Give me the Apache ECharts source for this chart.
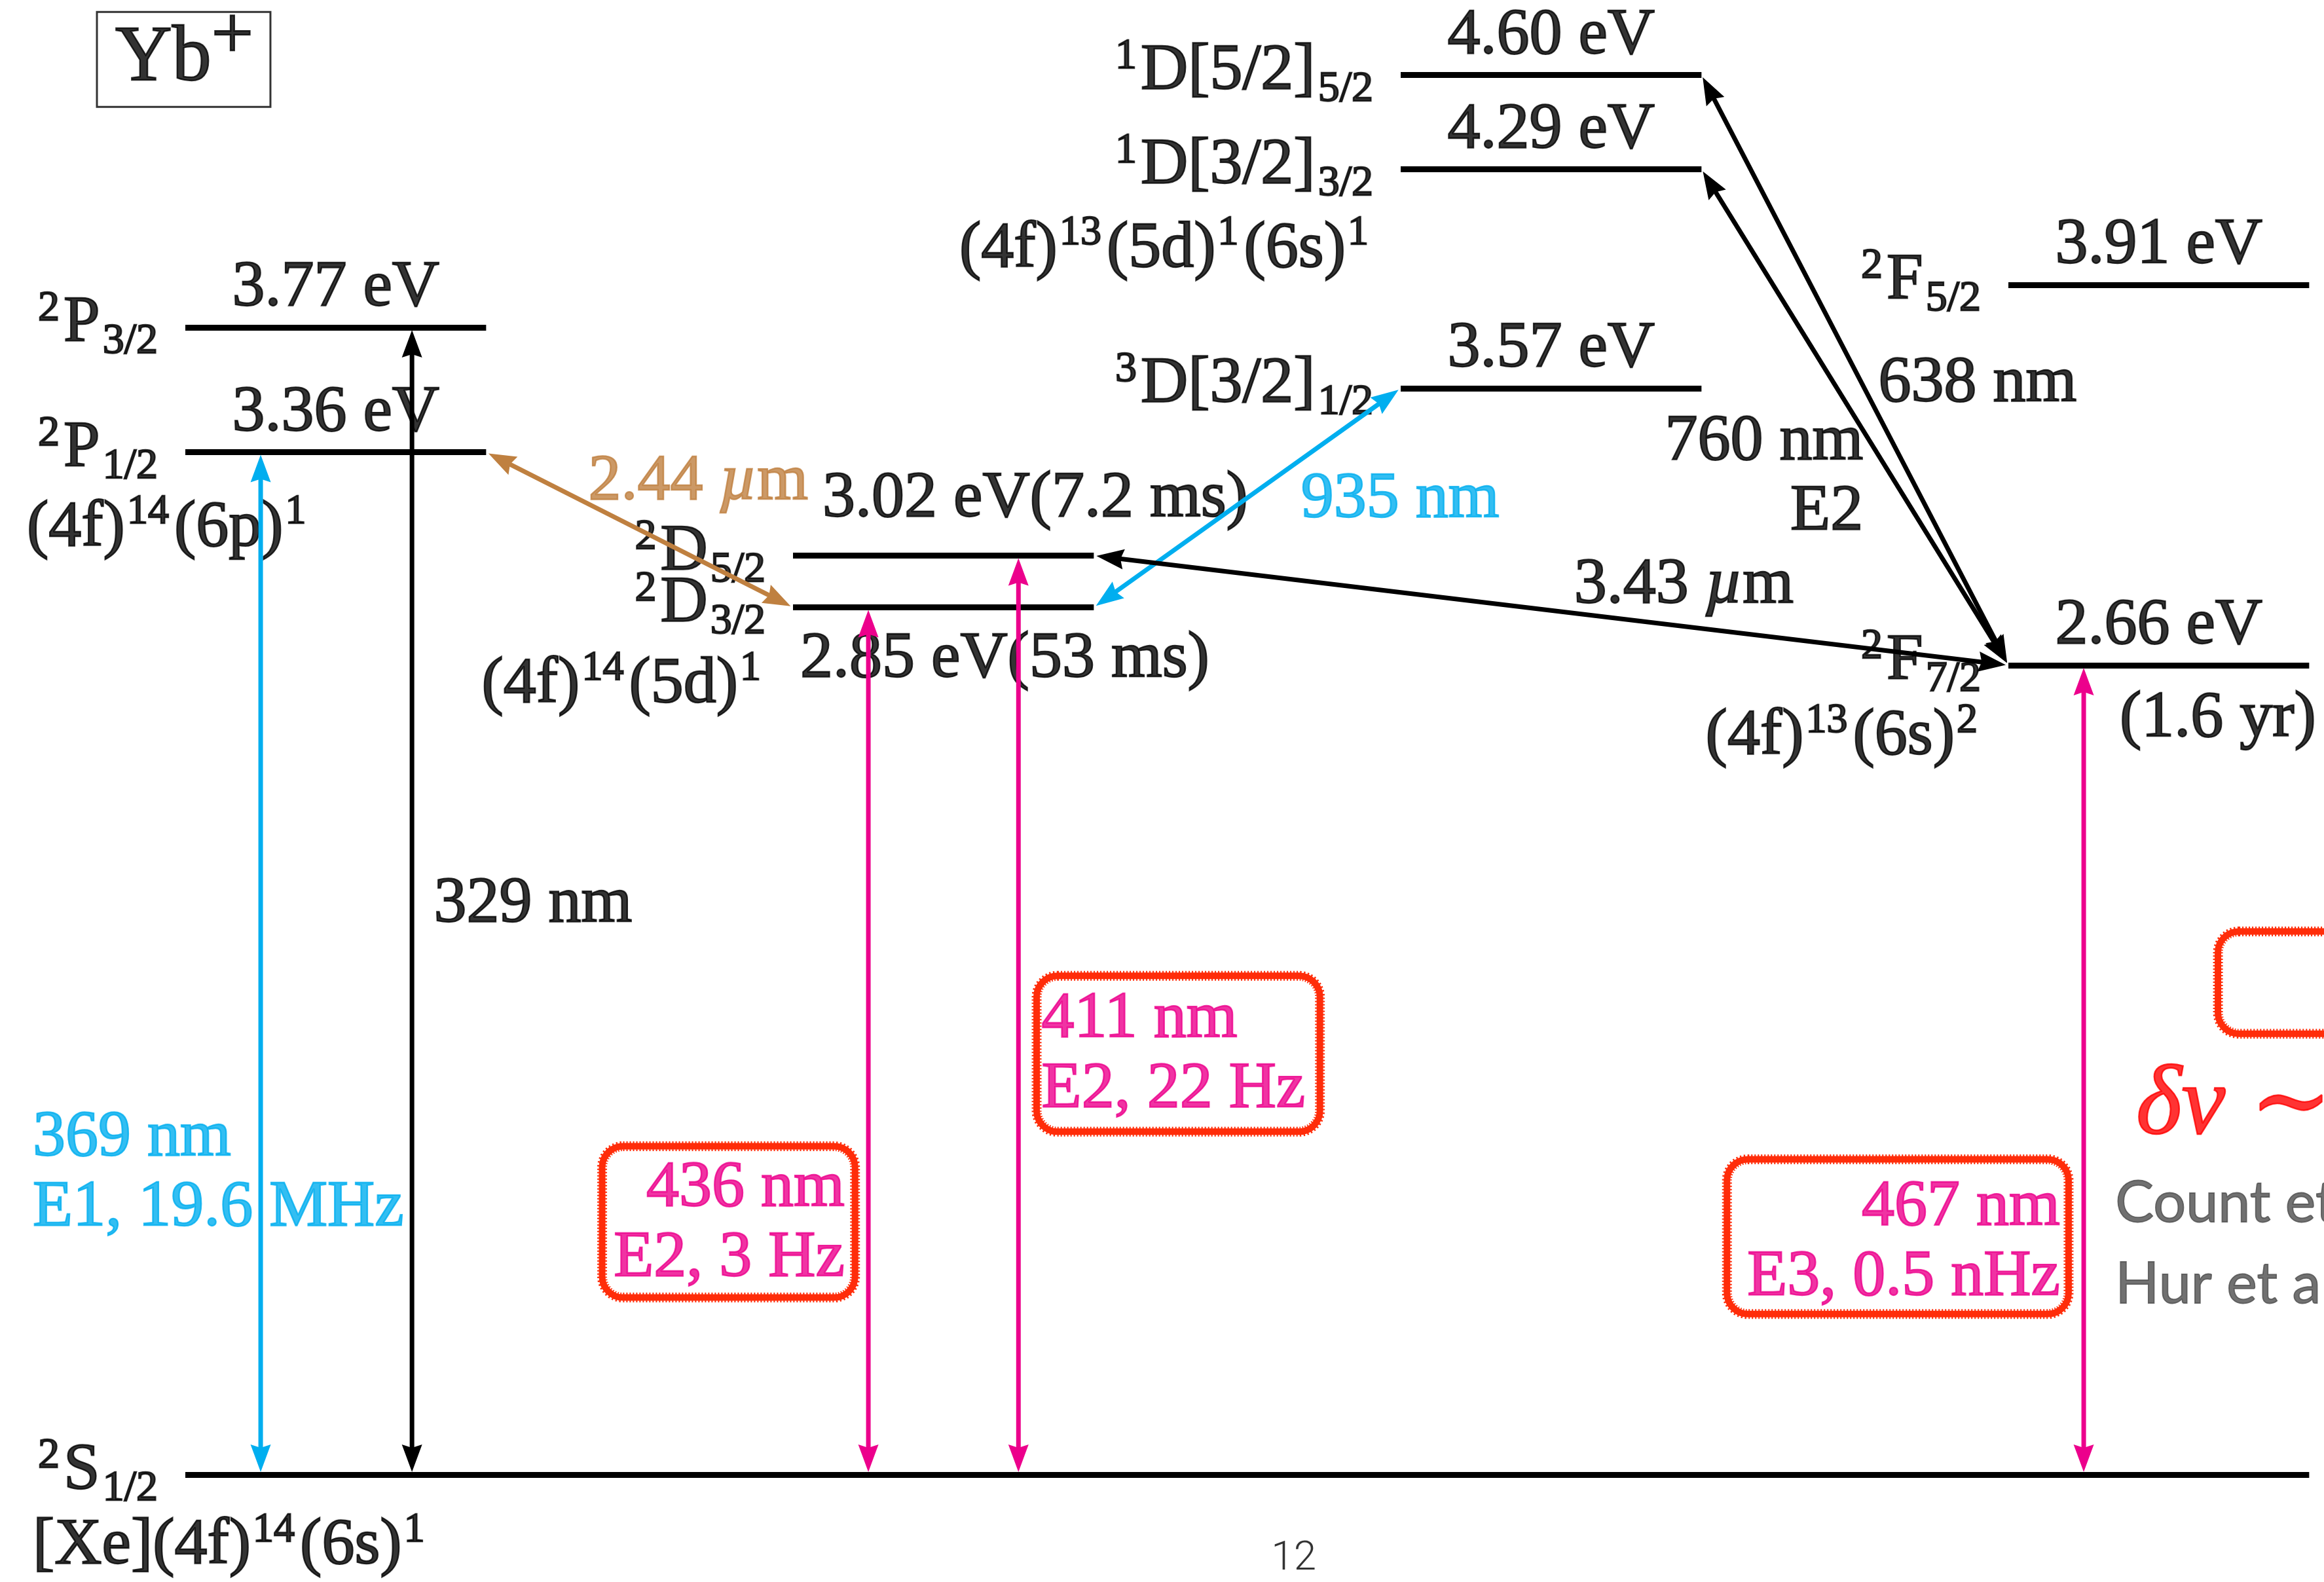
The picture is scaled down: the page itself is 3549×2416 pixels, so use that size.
<!DOCTYPE html>
<html>
<head>
<meta charset="utf-8">
<title>Yb+ levels</title>
<script src="https://cdn.jsdelivr.net/npm/echarts@6.0.0/dist/echarts.min.js"></script>
<style>
html, body { margin: 0; padding: 0; background: #fff; }
#main { width: 3549px; height: 2416px; }
</style>
</head>
<body>
<div id="main"></div>
<script>
// 能级数据 (eV)
var levelNames = ['2S1/2', '2P1/2', '2P3/2', '2D3/2', '2D5/2', '3D[3/2]1/2', '1D[3/2]3/2', '1D[5/2]5/2', '2F7/2', '2F5/2'];
var levelEnergy = [0, 3.36, 3.77, 2.85, 3.02, 3.57, 4.29, 4.60, 2.66, 3.91];
var levelTerm = [
	'{p|2}{m|S}{s|1/2}', '{p|2}{m|P}{s|1/2}', '{p|2}{m|P}{s|3/2}',
	'{p|2}{m|D}{s|3/2}', '{p|2}{m|D}{s|5/2}',
	'{p|3}{m|D[3/2]}{s|1/2}', '{p|1}{m|D[3/2]}{s|3/2}', '{p|1}{m|D[5/2]}{s|5/2}',
	'{p|2}{m|F}{s|7/2}', '{p|2}{m|F}{s|5/2}'
];
var levelEnergyText = ['', '3.36 eV', '3.77 eV', '2.85 eV(53 ms)', '3.02 eV(7.2 ms)', '3.57 eV', '4.29 eV', '4.60 eV', '2.66 eV', '3.91 eV'];

// 电子组态
var configLevel = ['2S1/2', '2P1/2', '2D3/2', '1D[3/2]3/2', '2F7/2'];
var configText = [
	'{m|[Xe](4f)}{u|14}{m|(6s)}{u|1}',
	'{m|(4f)}{u|14}{m|(6p)}{u|1}',
	'{m|(4f)}{u|14}{m|(5d)}{u|1}',
	'{m|(4f)}{u|13}{m|(5d)}{u|1}{m|(6s)}{u|1}',
	'{m|(4f)}{u|13}{m|(6s)}{u|2}'
];

// 跃迁
var transName = ['369 nm', '329 nm', '436 nm', '411 nm', '467 nm', '2.44 µm', '935 nm', '3.43 µm', '760 nm', '638 nm'];
var transLower = ['2S1/2', '2S1/2', '2S1/2', '2S1/2', '2S1/2', '2D3/2', '2D3/2', '2F7/2', '2F7/2', '2F7/2'];
var transUpper = ['2P1/2', '2P3/2', '2D3/2', '2D5/2', '2F7/2', '2P1/2', '3D[3/2]1/2', '2D5/2', '1D[3/2]3/2', '1D[5/2]5/2'];
var transText = [
	'{n|369 nm}\n{n|E1, 19.6 MHz}', '{n|329 nm}', '{n|436 nm}\n{n|E2, 3 Hz}', '{n|411 nm}\n{n|E2, 22 Hz}',
	'{n|467 nm}\n{n|E3, 0.5 nHz}', '{n|2.44 }{i|µ}{n|m}', '{n|935 nm}', '{n|3.43 }{i|µ}{n|m}',
	'{n|760 nm}\n{n|E2}', '{n|638 nm}'
];

/**------------------------- 布局 / 样式 ----------------------------*/
var X_MIN = -0.30496, X_MAX = 3.51940, E_MIN = -0.3529, E_MAX = 4.8461;
var LEVEL_W = 0.495; //能级线长度(列宽单位)
var levelColumn = {'2S1/2': 0, '2P1/2': 0, '2P3/2': 0, '2D3/2': 1, '2D5/2': 1, '3D[3/2]1/2': 2, '1D[3/2]3/2': 2, '1D[5/2]5/2': 2, '2F7/2': 3, '2F5/2': 3};
var levelExtra = {'2S1/2': 3}; //基态横跨四列
// 能量标注: [对齐, dx, dy]
var energyLabelLayout = {'2D3/2': ['left', 11, 79], '2D5/2': ['left', 45, -87]};
var configLayout = {
	'2S1/2': ['left', -233, 109], '2P1/2': ['left', -242, 116], '2D3/2': ['right', -41, 118],
	'1D[3/2]3/2': ['right', -41, 122], '2F7/2': ['right', -39, 109]
};
// 跃迁箭头横向位置 [下端, 上端]
var transX = {
	'369 nm': [0.124, 0.124], '329 nm': [0.373, 0.373], '436 nm': [1.124, 1.124], '411 nm': [1.371, 1.371],
	'467 nm': [3.124, 3.124], '2.44 µm': [1, 0.495], '935 nm': [1.495, 2], '3.43 µm': [3, 1.495],
	'760 nm': [3, 2.495], '638 nm': [3, 2.495]
};
var transLabelPos = {
	'369 nm': [-0.251, 0.992, 'left'], '329 nm': [0.409, 1.874, 'left'], '436 nm': [1.085, 0.826, 'right'],
	'411 nm': [1.409, 1.382, 'left'], '467 nm': [3.085, 0.764, 'right'], '2.44 µm': [0.844, 3.262, 'center'],
	'935 nm': [1.836, 3.204, 'left'], '3.43 µm': [2.466, 2.922, 'center'], '760 nm': [2.761, 3.280, 'right'],
	'638 nm': [2.786, 3.585, 'left']
};
var BLUE = '#00aeef', MAGENTA = '#ec008c', BROWN = '#bf8040', BLACK = '#000', RED = '#ff0000', BOX_RED = '#ff2d0a';
var transColor = {
	'369 nm': BLUE, '329 nm': BLACK, '436 nm': MAGENTA, '411 nm': MAGENTA, '467 nm': MAGENTA,
	'2.44 µm': BROWN, '935 nm': BLUE, '3.43 µm': BLACK, '760 nm': BLACK, '638 nm': BLACK
};
// 红色圈注框 [x0, e0, x1, e1]
var noteBoxes = [[0.680, 0.570, 1.108, 1.091], [1.395, 1.115, 1.873, 1.651], [2.531, 0.516, 3.105, 1.048], [3.339, 1.437, 3.62, 1.797]];

var SERIF = '"Liberation Serif", "DejaVu Serif", serif';
var HEAD_LEN = 42, HEAD_HALF = 15.5, HEAD_GAP = 4, ARROW_W = 7; //箭头尺寸(px)

function tok(color, o) {
	o.color = color;
	o.textBorderColor = color;
	o.textBorderWidth = o.textBorderWidth == null ? 2.4 : o.textBorderWidth;
	return o;
}

function richStyle(color) {
	return {
		m: tok(color, {fontFamily: SERIF, fontSize: 100, lineHeight: 130, verticalAlign: 'middle'}),
		p: tok(color, {fontFamily: SERIF, fontSize: 66, height: 86, verticalAlign: 'top', padding: [0, 6, 0, 0]}),
		u: tok(color, {fontFamily: SERIF, fontSize: 64, height: 82, verticalAlign: 'top', padding: [0, 8, 0, 3]}),
		s: tok(color, {fontFamily: SERIF, fontSize: 66, height: 74, verticalAlign: 'bottom', padding: [0, 0, 0, 4]}),
		n: tok(color, {fontFamily: SERIF, fontSize: 100, lineHeight: 107, verticalAlign: 'middle'}),
		i: tok(color, {fontFamily: SERIF, fontSize: 100, lineHeight: 107, fontStyle: 'italic', verticalAlign: 'middle'}),
		Y: tok(color, {fontFamily: SERIF, fontSize: 120, lineHeight: 130, verticalAlign: 'middle'}),
		q: tok(color, {fontFamily: SERIF, fontSize: 114, height: 66, verticalAlign: 'top'}),
		d: tok(color, {fontFamily: SERIF, fontSize: 150, lineHeight: 170, fontStyle: 'italic', verticalAlign: 'middle'}),
		t: tok(color, {fontFamily: SERIF, fontSize: 150, lineHeight: 170, verticalAlign: 'middle'}),
		g: tok(color, {fontFamily: 'Lato, "Open Sans", sans-serif', fontSize: 88, lineHeight: 100, verticalAlign: 'middle', textBorderWidth: 1.8}),
		pg: tok(color, {fontFamily: 'Roboto, "Liberation Sans", sans-serif', fontWeight: 300, fontSize: 62, lineHeight: 70, verticalAlign: 'middle', textBorderWidth: 0})
	};
}

function textItem(x, e, text, color, align, offset, extra) {
	var label = {
		show: true, position: 'inside', formatter: text, align: align, verticalAlign: 'middle', color: color,
		offset: offset || [0, 0], rich: richStyle(color)
	};
	if (extra) {
		for (var k in extra) label[k] = extra[k];
	}
	return {value: [x, e], label: label};
}

function energyOf(name) {
	return levelEnergy[levelNames.indexOf(name)];
}

var chart = echarts.init(document.getElementById('main'));

// 能级线
var levelData = levelNames.map(function (name, i) {
	var x0 = levelColumn[name];
	var x1 = x0 + (levelExtra[name] || 0) + LEVEL_W;
	return {name: name, coords: [[x0, levelEnergy[i]], [x1, levelEnergy[i]]]};
});

// 跃迁: [x下, E下, x上, E上]
var transData = transName.map(function (name, i) {
	return [transX[name][0], energyOf(transLower[i]), transX[name][1], energyOf(transUpper[i])];
});

// 双向箭头
function renderArrow(params, api) {
	var a = api.coord([api.value(0), api.value(1)]);
	var b = api.coord([api.value(2), api.value(3)]);
	var color = transColor[transName[params.dataIndex]];
	var dx = b[0] - a[0], dy = b[1] - a[1];
	var len = Math.sqrt(dx * dx + dy * dy);
	var ux = dx / len, uy = dy / len;
	function head(tx, ty, dirx, diry) {
		var bx = tx - dirx * HEAD_LEN, by = ty - diry * HEAD_LEN;
		var nx = -diry, ny = dirx;
		return {
			type: 'polygon',
			shape: {points: [[tx, ty], [bx + nx * HEAD_HALF, by + ny * HEAD_HALF],
				[tx - dirx * HEAD_LEN * 0.88, ty - diry * HEAD_LEN * 0.88], [bx - nx * HEAD_HALF, by - ny * HEAD_HALF]]},
			style: {fill: color}
		};
	}
	var ta = [a[0] + ux * HEAD_GAP, a[1] + uy * HEAD_GAP];
	var tb = [b[0] - ux * HEAD_GAP, b[1] - uy * HEAD_GAP];
	var inset = HEAD_LEN * 0.8;
	return {
		type: 'group',
		children: [{
			type: 'line',
			shape: {x1: ta[0] + ux * inset, y1: ta[1] + uy * inset, x2: tb[0] - ux * inset, y2: tb[1] - uy * inset},
			style: {stroke: color, lineWidth: ARROW_W}
		}, head(ta[0], ta[1], -ux, -uy), head(tb[0], tb[1], ux, uy)]
	};
}

// 文字
var textData = [];
textData.push(textItem(-0.0027, 4.651, '{Y|Yb}{q|+}', BLACK, 'center', [0, 0],
	{borderColor: '#000', borderWidth: 3, padding: [7, 26, 8, 28]}));
levelNames.forEach(function (name, i) {
	var x0 = levelColumn[name];
	textData.push(textItem(x0, levelEnergy[i], levelTerm[i], BLACK, 'right', [-42, -6]));
	if (levelEnergyText[i]) {
		var lay = energyLabelLayout[name];
		if (lay) {
			textData.push(textItem(x0, levelEnergy[i], '{m|' + levelEnergyText[i] + '}', BLACK, lay[0], [lay[1], lay[2]]));
		} else {
			textData.push(textItem(x0 + LEVEL_W / 2, levelEnergy[i], '{m|' + levelEnergyText[i] + '}', BLACK, 'center', [0, -60]));
		}
	}
});
textData.push(textItem(levelColumn['2F7/2'], energyOf('2F7/2'), '{m|(1.6 yr)}', BLACK, 'left', [170, 82]));
configLevel.forEach(function (name, i) {
	var lay = configLayout[name];
	textData.push(textItem(levelColumn[name], energyOf(name), configText[i], BLACK, lay[0], [lay[1], lay[2]]));
});
transName.forEach(function (name, i) {
	var pos = transLabelPos[name];
	textData.push(textItem(pos[0], pos[1], transText[i], transColor[name], pos[2]));
});
textData.push(textItem(3.210, 1.205, '{d|δν }{t|∼}', RED, 'left'));
textData.push(textItem(3.176, 0.891, '{g|Count et}', '#4d4d4d', 'left'));
textData.push(textItem(3.176, 0.624, '{g|Hur et al.}', '#4d4d4d', 'left'));
textData.push(textItem(1.824, -0.278, '{pg|12}', BLACK, 'center'));

var option = {
	animation: false,
	backgroundColor: '#fff',
	grid: {left: 0, right: 0, top: 0, bottom: 0},
	xAxis: {type: 'value', min: X_MIN, max: X_MAX, show: false},
	yAxis: {type: 'value', min: E_MIN, max: E_MAX, show: false},
	series: [{
		type: 'scatter',
		z: 1,
		symbolSize: 1,
		itemStyle: {color: 'rgba(0,0,0,0)'},
		silent: true,
		data: textData
	}, {
		type: 'lines',
		coordinateSystem: 'cartesian2d',
		z: 2,
		symbol: 'none',
		silent: true,
		lineStyle: {color: '#000', width: 9, opacity: 1, curveness: 0, cap: 'butt'},
		data: levelData
	}, {
		type: 'custom',
		coordinateSystem: 'cartesian2d',
		z: 3,
		silent: true,
		clip: false,
		encode: {x: [0, 2], y: [1, 3]},
		renderItem: renderArrow,
		data: transData
	}]
};
chart.setOption(option);

// 圈注框 (数据坐标换算成像素), 叠一层虚线做手绘毛边
var boxEls = [];
noteBoxes.forEach(function (b) {
	var p0 = chart.convertToPixel({gridIndex: 0}, [b[0], b[3]]);
	var p1 = chart.convertToPixel({gridIndex: 0}, [b[2], b[1]]);
	var lw = 11;
	var shape = {x: p0[0] + lw / 2, y: p0[1] + lw / 2, width: p1[0] - p0[0] - lw, height: p1[1] - p0[1] - lw, r: 32};
	boxEls.push({type: 'rect', z: 5, silent: true, shape: shape,
		style: {fill: 'none', stroke: BOX_RED, lineWidth: 10}});
	boxEls.push({type: 'rect', z: 5, silent: true, shape: shape,
		style: {fill: 'none', stroke: BOX_RED, lineWidth: 15, lineDash: [2, 3]}});
});
chart.setOption({graphic: boxEls});
</script>
</body>
</html>
